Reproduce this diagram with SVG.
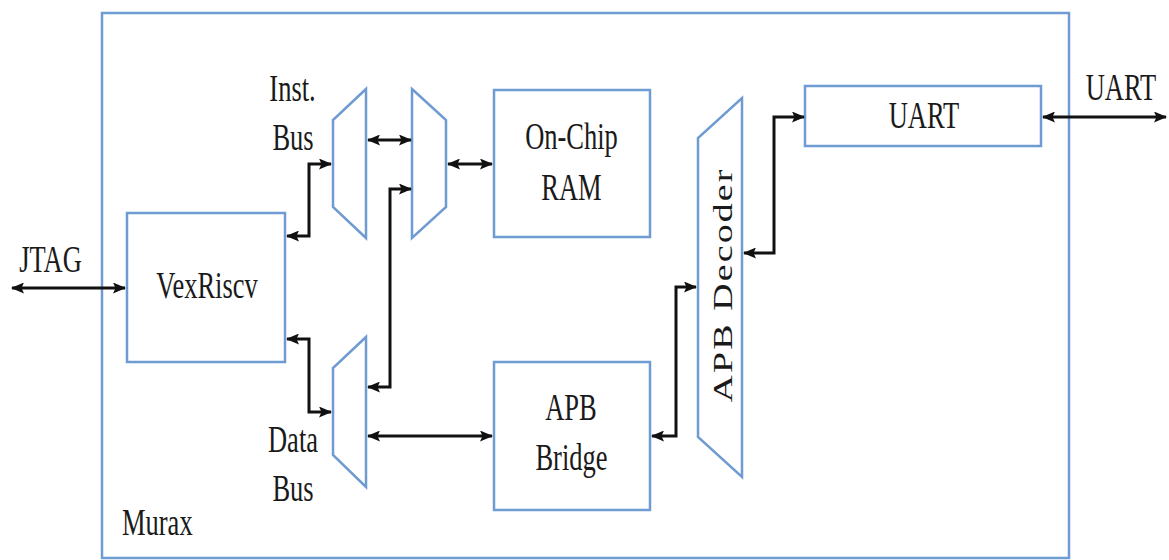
<svg xmlns="http://www.w3.org/2000/svg" width="1169" height="560" viewBox="0 0 1169 560">
  <style>
    .blk { fill: none; stroke: #6f9bd3; stroke-width: 2.5; }
    .con { fill: none; stroke: #111; stroke-width: 3; marker-start: url(#ah); marker-end: url(#ah); }
    .t { font-family: "Liberation Serif", "DejaVu Serif", serif; font-size: 26.5px; fill: #1a1a1a; text-anchor: middle; }
    .l { text-anchor: start; }
  </style>
  <defs>
    <marker id="ah" viewBox="0 0 13 11" refX="12" refY="5.5" markerWidth="13" markerHeight="11" markerUnits="userSpaceOnUse" orient="auto-start-reverse">
      <path d="M0,0 L13,5.5 L0,11 L2.5,5.5 z" fill="#111"/>
    </marker>
  </defs>
  <rect width="1169" height="560" fill="#fff"/>

  <g id="murax">
    <rect class="blk" x="102" y="13" width="967" height="545"/>
    <text class="t l" transform="translate(122,535) scale(1,1.43)">Murax</text>
  </g>

  <g id="vexriscv">
    <rect class="blk" x="127" y="213" width="158" height="149"/>
    <text class="t" transform="translate(207,298) scale(1,1.43)">VexRiscv</text>
  </g>

  <g id="inst-mux">
    <polygon class="blk" points="366,89 366,238 333,207 333,120"/>
    <text class="t" transform="translate(292.5,100.5) scale(1,1.43)">Inst.</text>
    <text class="t" transform="translate(293,150) scale(1,1.43)">Bus</text>
  </g>

  <g id="ram-mux">
    <polygon class="blk" points="412,89 446,120 446,207 412,238"/>
  </g>

  <g id="data-mux">
    <polygon class="blk" points="366,337 366,487 333,455 333,368"/>
    <text class="t" transform="translate(293,452) scale(1,1.43)">Data</text>
    <text class="t" transform="translate(293,501) scale(1,1.43)">Bus</text>
  </g>

  <g id="ram">
    <rect class="blk" x="494" y="90" width="156" height="147"/>
    <text class="t" transform="translate(571.5,149) scale(1,1.43)">On-Chip</text>
    <text class="t" transform="translate(571.5,200) scale(1,1.43)">RAM</text>
  </g>

  <g id="apb-bridge">
    <rect class="blk" x="494" y="362" width="156" height="148"/>
    <text class="t" transform="translate(571,420) scale(1,1.43)">APB</text>
    <text class="t" transform="translate(571.5,470) scale(1,1.43)">Bridge</text>
  </g>

  <g id="apb-decoder">
    <polygon class="blk" points="742,98 742,477 698,437 698,138"/>
    <text class="t" font-size="29" letter-spacing="1.5" transform="translate(731.5,285) scale(1,1.43) rotate(-90)">APB Decoder</text>
  </g>

  <g id="uart">
    <rect class="blk" x="805" y="86" width="236" height="60"/>
    <text class="t" transform="translate(924,128) scale(1,1.43)">UART</text>
  </g>

  <g id="labels">
    <text class="t" font-size="27" transform="translate(50.5,272) scale(1,1.43)">JTAG</text>
    <text class="t" transform="translate(1121,100) scale(1,1.43)">UART</text>
  </g>

  <g id="connectors">
    <path class="con" d="M12,288 L125,288"/>
    <path class="con" d="M287,236 L309,236 L309,164 L331,164"/>
    <path class="con" d="M368,140 L411,140"/>
    <path class="con" d="M448,164 L492,164"/>
    <path class="con" d="M368,387 L390,387 L390,189 L411,189"/>
    <path class="con" d="M287,339 L309,339 L309,412 L331,412"/>
    <path class="con" d="M368,436 L492,436"/>
    <path class="con" d="M652,436 L676,436 L676,287 L696,287"/>
    <path class="con" d="M744,253 L774,253 L774,117 L804,117"/>
    <path class="con" d="M1043,117 L1166,117"/>
  </g>
</svg>
